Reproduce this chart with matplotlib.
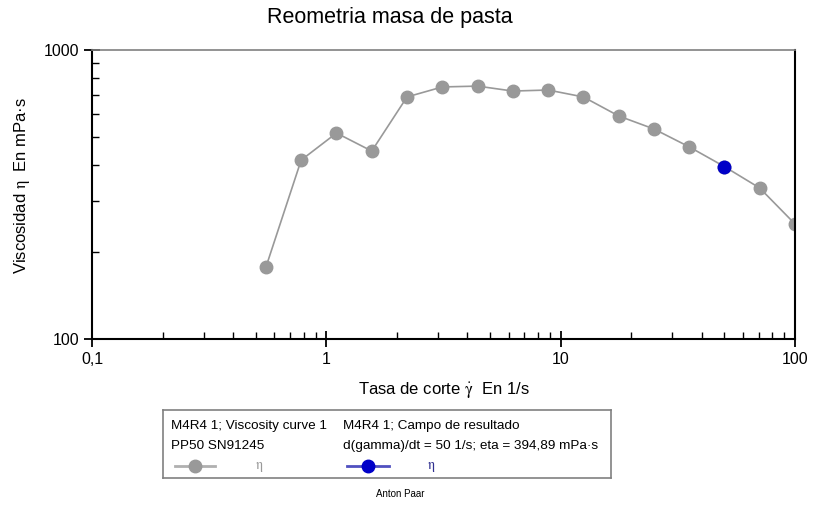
import matplotlib
matplotlib.use('Agg')
import matplotlib.pyplot as plt
from matplotlib.lines import Line2D
from matplotlib.ticker import FixedLocator, LogLocator, NullFormatter, FuncFormatter

plt.rcParams['font.family'] = ['Liberation Sans', 'DejaVu Sans']
plt.rcParams['mathtext.fontset'] = 'stix'

# Viscosity curve (shear rate in 1/s, viscosity in mPa·s)
shear_rate = [0.552, 0.781, 1.105, 1.5625, 2.21, 3.125, 4.42, 6.25, 8.84,
              12.5, 17.7, 25.0, 35.4, 50.0, 70.7, 100.0]
viscosity = [177, 416, 516, 447, 688, 745, 750, 721, 727,
             688, 591, 533, 462, 394.89, 333, 250]

# Result field point
result_rate = [50.0]
result_eta = [394.89]

x_ticks = [0.1, 1, 10, 100]
x_tick_labels = ['0,1', '1', '10', '100']
y_ticks = [100, 1000]
y_tick_labels = ['100', '1000']

GREY = '#999999'
BLUE = '#0000c8'

fig = plt.figure(figsize=(8.15, 5.25), dpi=100)
ax = fig.add_axes([92 / 815, 1 - 339 / 525, (795 - 92) / 815, (339 - 50) / 525])

ax.plot(shear_rate, viscosity, color=GREY, lw=1.2, marker='o', ms=9,
        markerfacecolor=GREY, markeredgecolor=GREY, zorder=2)
ax.plot(result_rate, result_eta, linestyle='none', marker='o', ms=9,
        markerfacecolor=BLUE, markeredgecolor=BLUE, zorder=3)

ax.set_xscale('log')
ax.set_yscale('log')
ax.set_xlim(0.1, 100)
ax.set_ylim(100, 1000)

ax.xaxis.set_major_locator(FixedLocator(x_ticks))
ax.xaxis.set_major_formatter(FuncFormatter(lambda v, p: x_tick_labels[x_ticks.index(v)] if v in x_ticks else ''))
ax.yaxis.set_major_locator(FixedLocator(y_ticks))
ax.yaxis.set_major_formatter(FuncFormatter(lambda v, p: y_tick_labels[y_ticks.index(v)] if v in y_ticks else ''))
ax.xaxis.set_minor_locator(LogLocator(base=10, subs=range(2, 10)))
ax.yaxis.set_minor_locator(LogLocator(base=10, subs=range(2, 10)))
ax.xaxis.set_minor_formatter(NullFormatter())
ax.yaxis.set_minor_formatter(NullFormatter())

ax.tick_params(axis='both', which='major', direction='inout', length=12, width=1.3,
               labelsize=11.5, colors='black')
ax.tick_params(axis='y', which='major', pad=3)
ax.tick_params(axis='x', which='major', pad=3)
ax.tick_params(axis='both', which='minor', direction='in', length=5, width=1.0)
ax.tick_params(axis='x', which='both', top=False)
ax.tick_params(axis='y', which='both', right=False)

for side in ['left', 'bottom', 'right']:
    ax.spines[side].set_linewidth(1.5)
    ax.spines[side].set_color('black')
ax.spines['top'].set_linewidth(1.2)
ax.spines['top'].set_color('#808080')

ax.set_xlabel(r'Tasa de corte $\mathrm{\dot{\gamma}}$  En 1/s', fontsize=12, labelpad=10)
ax.set_ylabel(r'Viscosidad $\mathrm{\eta}$  En mPa·s', fontsize=12)
ax.yaxis.set_label_coords(-0.086, 0.53)
fig.text(390 / 815, 1 - 18 / 525, 'Reometria masa de pasta', fontsize=15.5,
         ha='center', va='center')

# Legend box drawn by hand
lg = fig.add_axes([163 / 815, 1 - 478 / 525, (611 - 163) / 815, (478 - 410) / 525])
lg.set_xlim(0, 448)
lg.set_ylim(68, 0)
lg.set_xticks([])
lg.set_yticks([])
for s in lg.spines.values():
    s.set_color('#808080')
    s.set_linewidth(1.2)

lg.text(8, 16, 'M4R4 1; Viscosity curve 1', fontsize=9.7, va='center')
lg.text(8, 36, 'PP50 SN91245', fontsize=9.7, va='center')
lg.text(180, 16, 'M4R4 1; Campo de resultado', fontsize=9.7, va='center')
lg.text(180, 36, 'd(gamma)/dt = 50 1/s; eta = 394,89 mPa·s', fontsize=9.7, va='center')

lg.add_line(Line2D([12, 52], [56, 56], color='#b0b0b0', lw=2))
lg.plot([32], [56], marker='o', ms=9, color=GREY)
lg.text(92, 57, r'$\mathrm{\eta}$', fontsize=10, color=GREY, va='center')
lg.add_line(Line2D([184, 226], [56, 56], color='#5050c0', lw=2))
lg.plot([205], [56], marker='o', ms=9, color=BLUE)
lg.text(264, 57, r'$\mathrm{\eta}$', fontsize=10, color='#303090', va='center')

fig.text(400 / 815, 1 - 494 / 525, 'Anton Paar', fontsize=7, ha='center', va='center')

fig.savefig('out.png', dpi=100, facecolor='white')
